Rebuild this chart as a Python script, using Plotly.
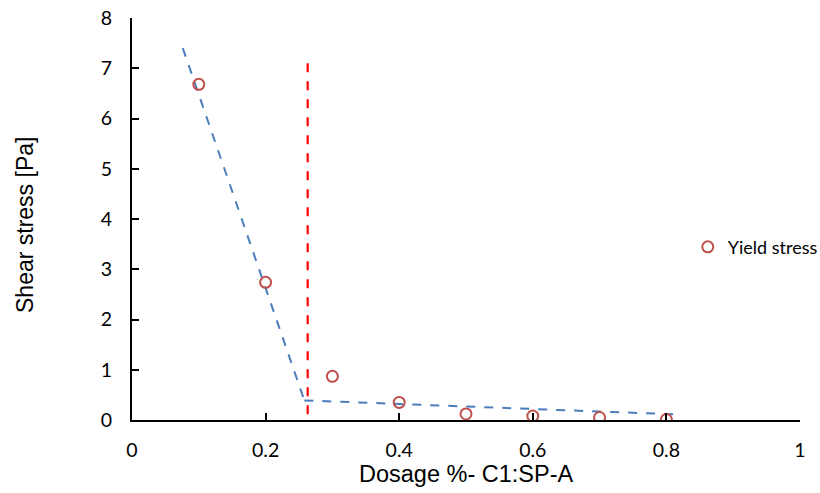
import plotly.graph_objects as go

# Data
dosage = [0.1, 0.2, 0.3, 0.4, 0.5, 0.6, 0.7, 0.8]
yield_stress = [6.68, 2.74, 0.87, 0.35, 0.12, 0.08, 0.05, 0.01]

fit1_x = [0.076, 0.258]
fit1_y = [7.40, 0.39]
fit2_x = [0.258, 0.817]
fit2_y = [0.39, 0.11]

threshold_x = [0.263, 0.263]
threshold_y = [7.10, 0.0]

x_ticks = [0, 0.2, 0.4, 0.6, 0.8, 1]
x_tick_text = ["0", "0.2", "0.4", "0.6", "0.8", "1"]
y_ticks = [0, 1, 2, 3, 4, 5, 6, 7, 8]

fig = go.Figure()

fig.add_trace(go.Scatter(x=fit1_x, y=fit1_y, mode="lines", showlegend=False,
                         line=dict(color="#4a7ebb", width=2, dash="dash")))
fig.add_trace(go.Scatter(x=fit2_x, y=fit2_y, mode="lines", showlegend=False,
                         line=dict(color="#4a7ebb", width=2, dash="dash")))
fig.add_trace(go.Scatter(x=threshold_x, y=threshold_y, mode="lines", showlegend=False,
                         line=dict(color="#ff0000", width=2.2, dash="dash")))
fig.add_trace(go.Scatter(x=dosage, y=yield_stress, mode="markers", name="Yield stress",
                         marker=dict(symbol="circle-open", size=11, color="#c0504d",
                                     line=dict(width=2, color="#c0504d"))))

fig.update_layout(
    width=820, height=493,
    margin=dict(l=132, r=20, t=18, b=73, autoexpand=False),
    paper_bgcolor="white", plot_bgcolor="white",
    font=dict(family="Lato, Carlito, Open Sans, sans-serif", size=19.5, color="#000000"),
    legend=dict(x=0.832, y=0.43, xanchor="left", yanchor="middle",
                font=dict(family="Lato, Open Sans, sans-serif", size=18),
                bgcolor="rgba(0,0,0,0)", itemwidth=30),
    xaxis=dict(range=[0, 1], tickvals=x_ticks, ticktext=x_tick_text,
               showgrid=False, zeroline=False, showline=True, linecolor="#000000", linewidth=2,
               ticks="inside", ticklen=7, tickwidth=2, tickcolor="#000000",
               ticklabelstandoff=12),
    yaxis=dict(range=[0, 8], tickvals=y_ticks,
               showgrid=False, zeroline=False, showline=True, linecolor="#000000", linewidth=2,
               ticks="inside", ticklen=7, tickwidth=2, tickcolor="#000000",
               ticklabelstandoff=14),
)

fig.add_annotation(text="Dosage %- C1:SP-A", xref="paper", yref="paper",
                   x=0.5, y=0.0, yshift=-54, showarrow=False, xanchor="center", yanchor="middle",
                   font=dict(family="Liberation Sans, Arial, sans-serif", size=23.5))
fig.add_annotation(text="Shear stress [Pa]", xref="paper", yref="paper",
                   x=0, xshift=-107, y=0.5, yshift=-6, showarrow=False, textangle=-90,
                   xanchor="center", yanchor="middle",
                   font=dict(family="Liberation Sans, Arial, sans-serif", size=23))

fig.write_html("out.html")
